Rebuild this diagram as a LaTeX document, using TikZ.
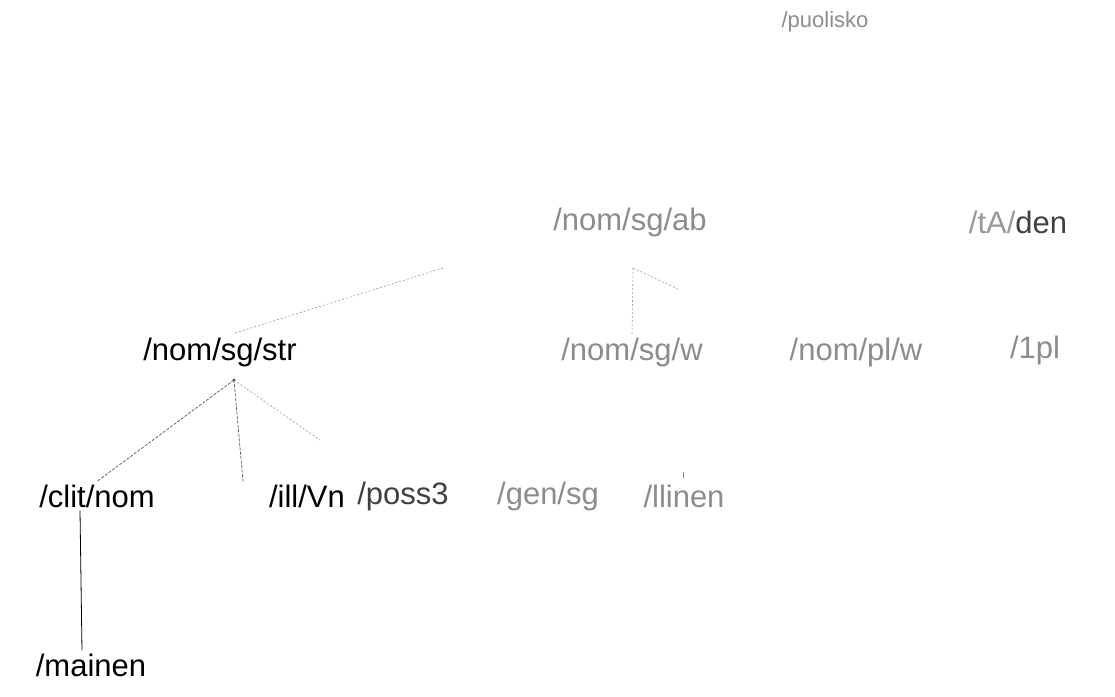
\documentclass[tikz,border=0pt]{standalone}
\usepackage{fontspec}
\setmainfont{Liberation Sans}
\begin{document}
\begin{tikzpicture}[x=1pt,y=-1pt,
  lab/.style={inner sep=3pt,font=\fontsize{31}{34}\selectfont},
  faint/.style={lab,text=black!45},
  mid/.style={lab,text=black!75},
  small/.style={faint,font=\fontsize{22}{26}\selectfont},
  edge/.style={black!65,line width=0.7pt,dash pattern=on 3pt off 1.5pt},
  fedge/.style={black!40,line width=0.6pt,dash pattern=on 2pt off 2pt}]
\useasboundingbox (0,0) rectangle (1115,696);
% labels
\node[small] (puolisko) at (825,22) {/puolisko};
\node[faint] (nomsgab) at (630,222) {/nom/sg/ab};
\node[mid] (taden) at (1018,222) {{\color{black!40}/tA/}den};
\node[lab] (nomsgstr) at (220,352) {/nom/sg/str};
\node[faint] (nomsgw) at (632,352) {/nom/sg/w};
\node[faint] (nomplw) at (856,352) {/nom/pl/w};
\node[faint] (onepl) at (1035,350) {/1pl};
\node[lab] (clitnom) at (97,496) {/clit/nom};
\node[lab] (illvn) at (307,496) {/ill/Vn};
\node[mid] (poss) at (403,496) {/poss3};
\node[faint] (gensg) at (548,496) {/gen/sg};
\node[faint] (llinen) at (684,496) {/llinen};
\node[lab] (mainen) at (91,665) {/mainen};
% connector points
\coordinate (up) at (443,268);
\coordinate (strtop) at (235,333);
\coordinate (dot) at (234,380);
\coordinate (short) at (320,440);
\coordinate (abbot) at (633,268);
\coordinate (abtick) at (680,290);
\coordinate (tick) at (683,472);
% connectors
\draw[fedge] (strtop) -- (up);
\fill (dot) circle (1.5pt);
\draw[edge] (dot) -- (clitnom.north);
\draw[edge] (dot) -- (illvn.north -| 243,0);
\draw[fedge] (dot) -- (short);
\draw[fedge] (abbot) -- (nomsgw.north);
\draw[fedge] (abbot) -- (abtick);
\draw[black,line width=0.8pt] (clitnom.south -| 80,0) -- (mainen.north -| 82,0);
\draw[black!50,line width=0.6pt] (tick) -- ++(0,6);
\end{tikzpicture}
\end{document}
